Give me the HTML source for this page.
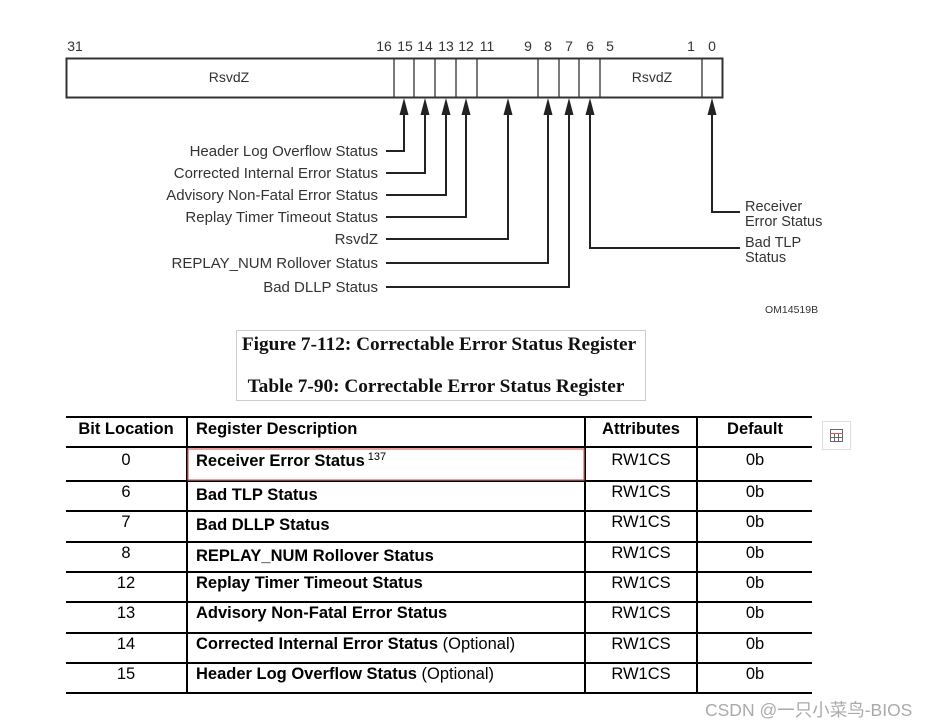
<!DOCTYPE html>
<html><head><meta charset="utf-8"><style>
html,body{margin:0;padding:0;background:#fff;}
svg{display:block;}
.s{font-family:"Liberation Sans",Arial,sans-serif;}
</style></head><body>
<svg width="939" height="728" viewBox="0 0 939 728" xmlns="http://www.w3.org/2000/svg">
<g class="s" font-size="14" fill="#333" text-anchor="middle">
<text x="75" y="51">31</text><text x="384" y="51">16</text><text x="405" y="51">15</text><text x="425" y="51">14</text><text x="446" y="51">13</text><text x="466" y="51">12</text><text x="487" y="51">11</text><text x="528" y="51">9</text><text x="548" y="51">8</text><text x="569" y="51">7</text><text x="590" y="51">6</text><text x="610" y="51">5</text><text x="691" y="51">1</text><text x="712" y="51">0</text>
<text x="229" y="82">RsvdZ</text><text x="652" y="82">RsvdZ</text>
</g>
<rect x="66.5" y="58.5" width="656" height="39" fill="none" stroke="#333" stroke-width="2"/>
<g stroke="#333" stroke-width="1.3">
<line x1="394" y1="58" x2="394" y2="97"/><line x1="414" y1="58" x2="414" y2="97"/><line x1="435" y1="58" x2="435" y2="97"/><line x1="456" y1="58" x2="456" y2="97"/><line x1="477" y1="58" x2="477" y2="97"/><line x1="538" y1="58" x2="538" y2="97"/><line x1="559" y1="58" x2="559" y2="97"/><line x1="579" y1="58" x2="579" y2="97"/><line x1="600" y1="58" x2="600" y2="97"/><line x1="702" y1="58" x2="702" y2="97"/>
</g>
<g stroke="#222" stroke-width="2" fill="none">
<polyline points="386,151 404,151 404,110"/>
<polyline points="386,173 425,173 425,110"/>
<polyline points="386,195 446,195 446,110"/>
<polyline points="386,217 466,217 466,110"/>
<polyline points="386,239 508,239 508,110"/>
<polyline points="386,263 548,263 548,110"/>
<polyline points="386,287 569,287 569,110"/>
<polyline points="740,248 590,248 590,110"/>
<polyline points="740,212 712,212 712,110"/>
</g>
<g fill="#222">
<path d="M404,98 L399.5,115 L408.5,115 Z"/>
<path d="M425,98 L420.5,115 L429.5,115 Z"/>
<path d="M446,98 L441.5,115 L450.5,115 Z"/>
<path d="M466,98 L461.5,115 L470.5,115 Z"/>
<path d="M508,98 L503.5,115 L512.5,115 Z"/>
<path d="M548,98 L543.5,115 L552.5,115 Z"/>
<path d="M569,98 L564.5,115 L573.5,115 Z"/>
<path d="M590,98 L585.5,115 L594.5,115 Z"/>
<path d="M712,98 L707.5,115 L716.5,115 Z"/>
</g>
<g class="s" font-size="15" fill="#333" text-anchor="end">
<text x="378" y="156">Header Log Overflow Status</text>
<text x="378" y="178">Corrected Internal Error Status</text>
<text x="378" y="200">Advisory Non-Fatal Error Status</text>
<text x="378" y="222">Replay Timer Timeout Status</text>
<text x="378" y="244">RsvdZ</text>
<text x="378" y="268">REPLAY_NUM Rollover Status</text>
<text x="378" y="292">Bad DLLP Status</text>
</g>
<g class="s" font-size="14.5" fill="#333">
<text x="745" y="211">Receiver</text><text x="745" y="226">Error Status</text>
<text x="745" y="247">Bad TLP</text><text x="745" y="262">Status</text>
<text x="765" y="313" font-size="10.5">OM14519B</text>
</g>
<rect x="236.5" y="330.5" width="409" height="70" fill="none" stroke="#ccc" stroke-width="1"/>
<g font-family="'Liberation Serif',serif" font-weight="bold" font-size="19.3" fill="#111" text-anchor="middle">
<text x="439" y="350">Figure 7-112:  Correctable Error Status Register</text>
<text x="436" y="392">Table 7-90:  Correctable Error Status Register</text>
</g>
<g stroke="#000" stroke-width="2">
<line x1="66" y1="417" x2="812" y2="417"/>
<line x1="66" y1="447" x2="812" y2="447"/>
<line x1="66" y1="481" x2="812" y2="481"/>
<line x1="66" y1="511" x2="812" y2="511"/>
<line x1="66" y1="542" x2="812" y2="542"/>
<line x1="66" y1="572" x2="812" y2="572"/>
<line x1="66" y1="602" x2="812" y2="602"/>
<line x1="66" y1="633" x2="812" y2="633"/>
<line x1="66" y1="663" x2="812" y2="663"/>
<line x1="66" y1="693" x2="812" y2="693"/>
<line x1="187" y1="417" x2="187" y2="693"/>
<line x1="585" y1="417" x2="585" y2="693"/>
<line x1="697" y1="417" x2="697" y2="693"/>
</g>
<rect x="188" y="449" width="396" height="31" fill="none" stroke="#e06060" stroke-width="1.2"/>
<g class="s" font-size="16.5" fill="#000">
<g font-weight="bold"><text x="126" y="434" text-anchor="middle">Bit Location</text><text x="196" y="434">Register Description</text><text x="641" y="434" text-anchor="middle">Attributes</text><text x="755" y="434" text-anchor="middle">Default</text></g>
<g text-anchor="middle">
<text x="126" y="465">0</text><text x="126" y="497">6</text><text x="126" y="527">7</text><text x="126" y="558">8</text><text x="126" y="588">12</text><text x="126" y="618">13</text><text x="126" y="649">14</text><text x="126" y="679">15</text>
<text x="641" y="465">RW1CS</text><text x="641" y="497">RW1CS</text><text x="641" y="527">RW1CS</text><text x="641" y="558">RW1CS</text><text x="641" y="588">RW1CS</text><text x="641" y="618">RW1CS</text><text x="641" y="649">RW1CS</text><text x="641" y="679">RW1CS</text>
<text x="755" y="465">0b</text><text x="755" y="497">0b</text><text x="755" y="527">0b</text><text x="755" y="558">0b</text><text x="755" y="588">0b</text><text x="755" y="618">0b</text><text x="755" y="649">0b</text><text x="755" y="679">0b</text>
</g>
<g font-weight="bold">
<text x="196" y="466">Receiver Error Status<tspan font-weight="normal" font-size="11" dy="-6"> 137</tspan></text>
<text x="196" y="500">Bad TLP Status</text>
<text x="196" y="530">Bad DLLP Status</text>
<text x="196" y="561">REPLAY_NUM Rollover Status</text>
<text x="196" y="588">Replay Timer Timeout Status</text>
<text x="196" y="618">Advisory Non-Fatal Error Status</text>
<text x="196" y="649">Corrected Internal Error Status <tspan font-weight="normal">(Optional)</tspan></text>
<text x="196" y="679">Header Log Overflow Status <tspan font-weight="normal">(Optional)</tspan></text>
</g>
</g>
<rect x="822.5" y="421.5" width="28" height="28" fill="#fff" stroke="#ddd"/>
<g stroke="#666" fill="none" stroke-width="1"><rect x="830.5" y="429.5" width="12" height="12"/><line x1="830" y1="433.5" x2="843" y2="433.5" stroke="#d55"/><line x1="834.5" y1="434" x2="834.5" y2="442"/><line x1="838.5" y1="434" x2="838.5" y2="442"/><line x1="831" y1="437.5" x2="843" y2="437.5"/></g>
<text x="705" y="716" font-family="'Liberation Sans','Noto Sans CJK SC',sans-serif" font-size="17.5" fill="#aaa">CSDN @一只小菜鸟-BIOS</text>
</svg>
</body></html>
